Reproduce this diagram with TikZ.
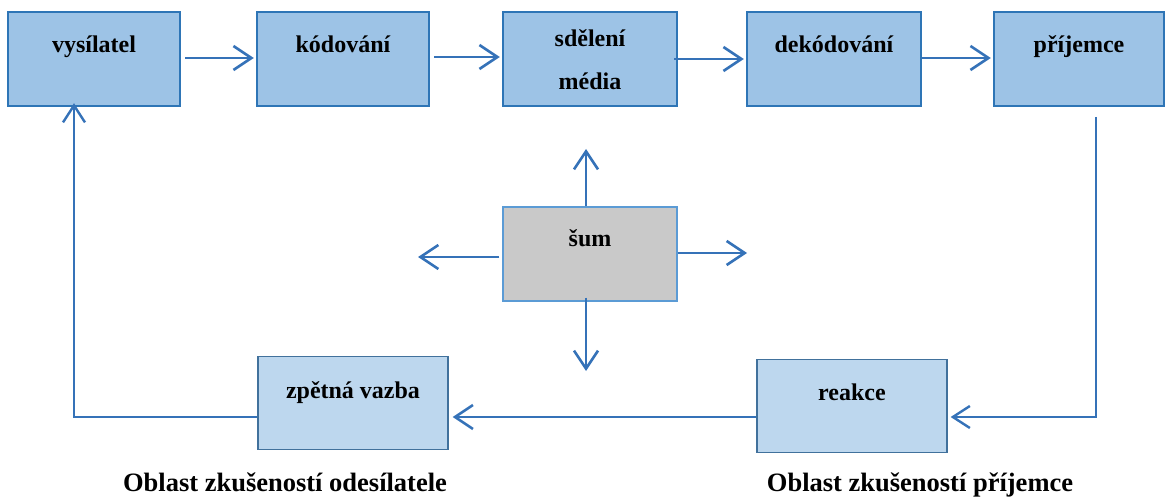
\documentclass[tikz,border=0pt]{standalone}
\usepackage{fontspec}
\setmainfont{Liberation Serif}
\usetikzlibrary{arrows.meta}
\definecolor{topfill}{HTML}{9DC3E6}
\definecolor{topdraw}{HTML}{2E75B6}
\definecolor{botfill}{HTML}{BDD7EE}
\definecolor{botdraw}{HTML}{41719C}
\definecolor{noisefill}{HTML}{C9C9C9}
\definecolor{noisedraw}{HTML}{5B9BD5}
\definecolor{arrcol}{HTML}{3572B8}
\tikzset{
  topbox/.style={draw=topdraw, fill=topfill, line width=2.4pt, minimum width=172pt, minimum height=94pt, inner sep=0pt},
  botbox/.style={draw=botdraw, fill=botfill, line width=1.3pt, minimum width=190pt, minimum height=93pt, inner sep=0pt},
  noisebox/.style={draw=noisedraw, fill=noisefill, line width=1.3pt, minimum width=174pt, minimum height=94pt, inner sep=0pt},
  lbl/.style={anchor=base, inner sep=0pt, font=\fontsize{24}{28}\selectfont\bfseries},
  area/.style={anchor=base, inner sep=0pt, font=\fontsize{26.5}{30}\selectfont\bfseries},
  arr/.style={draw=arrcol, line width=2.6pt, -{Straight Barb[length=18pt,width=24pt,line width=2.6pt]}},
  thinarr/.style={draw=arrcol, line width=1.5pt, -{Straight Barb[length=17pt,width=22pt,line width=2.4pt]}},
}
\begin{document}
\begin{tikzpicture}[x=1pt,y=-1pt]
\useasboundingbox (0,0) rectangle (1165,497);
% top row
\node[topbox] (vys) at (94,59) {};
\node[topbox] (kod) at (343,59) {};
\node[topbox, minimum width=174pt] (sde) at (590,59) {};
\node[topbox, minimum width=174pt] (dek) at (834,59) {};
\node[topbox, minimum width=170pt] (pri) at (1079,59) {};
\node[lbl] (tvys) at (94,53) {vysílatel};
\node[lbl] (tkod) at (343,53) {kódování};
\node[lbl] (tsde1) at (590,47) {sdělení};
\node[lbl] (tsde2) at (590,90) {média};
\node[lbl] (tdek) at (834,53) {dekódování};
\node[lbl] (tpri) at (1079,53) {příjemce};
% noise
\node[noisebox] (sum) at (590,254) {};
\node[lbl] (tsum) at (590,247) {šum};
% bottom
\node[botbox] (zpe) at (353,403) {};
\node[lbl] (tzpe) at (353,398) {zpětná vazba};
\node[botbox] (rea) at (852,406) {};
\node[lbl] (trea) at (852,400) {reakce};
\node[area] (oa) at (285,491) {Oblast zkušeností odesílatele};
\node[area] (ob) at (920,491) {Oblast zkušeností příjemce};
% top arrows
\draw[arr] ([xshift=4pt,yshift=1pt]vys.east) -- ([xshift=-2pt,yshift=1pt]kod.west);
\draw[arr] ([xshift=4pt,yshift=2pt]kod.east) -- ([xshift=-2pt,yshift=2pt]sde.west);
\draw[arr] ([xshift=-4pt]sde.east) -- ([xshift=-2pt]dek.west);
\draw[arr] ([yshift=1pt]dek.east) -- ([xshift=-2pt,yshift=1pt]pri.west);
% noise arrows
\coordinate (nu) at (586,149);
\coordinate (nl) at (418,257);
\coordinate (nr) at (747,253);
\coordinate (nd) at (586,371);
\draw[arr] (sum.north -| nu) -- (nu);
\draw[arr] ([xshift=-3pt]sum.west |- nl) -- (nl);
\draw[arr] (sum.east |- nr) -- (nr);
\draw[arr] ([yshift=4pt]sum.south -| nd) -- (nd);
% feedback loop
\coordinate (pr1) at (1096,117);
\coordinate (pr2) at (1096,417);
\draw[thinarr] (pr1) -- (pr2) -- ([xshift=3pt]rea.east |- pr2);
\draw[arr] (rea.west |- pr2) -- ([xshift=4pt]zpe.east |- pr2);
\coordinate (fb1) at (74,417);
\draw[thinarr] (zpe.west |- fb1) -- (fb1) -- ([yshift=4pt]vys.south -| fb1);
\end{tikzpicture}
\end{document}
